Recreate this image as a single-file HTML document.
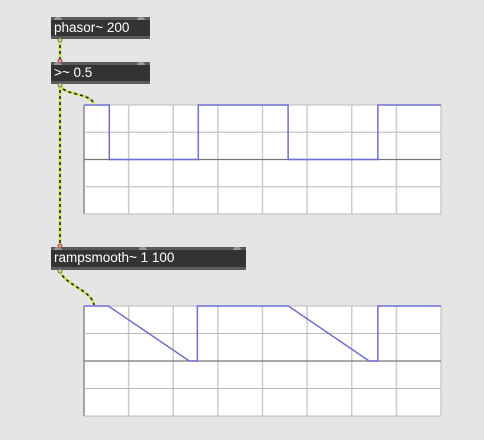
<!DOCTYPE html>
<html><head><meta charset="utf-8"><style>
body{margin:0;width:484px;height:440px;background:#e5e5e5;overflow:hidden;font-family:"Liberation Sans",sans-serif}
.obj{position:absolute;background:#333;border-top:3px solid #5a5a5a;border-bottom:3px solid #5a5a5a;color:#fff;font-size:13.5px;line-height:16px;padding-left:3px;box-sizing:border-box}
.in{position:absolute;top:-3px;width:8px;height:3px;background:#999;border-radius:4px 4px 0 0}
</style></head><body>
<div class="obj" style="left:51px;top:17px;width:99px;height:22px">phasor~ 200<span class="in" style="left:3px"></span><span class="in" style="left:86px"></span></div>
<div class="obj" style="left:51px;top:62px;width:99px;height:22px">&gt;~ 0.5<span class="in" style="left:3px"></span><span class="in" style="left:86px"></span></div>
<div class="obj" style="left:51px;top:247px;width:195px;height:23px">rampsmooth~ 1 100<span class="in" style="left:3px"></span><span class="in" style="left:88px"></span><span class="in" style="left:182px"></span></div>
<svg id="s" width="484" height="440" style="position:absolute;left:0;top:0"></svg>
<script>
const divisions=[0,1,2,3,4,5,6,7,8];
const hlines=[1,0.5,0,-0.5,-1];
const scope1T=[0,0.567,0.567,2.562,2.562,4.574,4.574,6.585,6.585,8];
const scope1V=[1,1,0,0,1,1,0,0,1,1];
const scope2T=[0,0.545,2.361,2.54,2.54,4.58,6.39,6.585,6.585,8];
const scope2V=[1,1,0,0,1,1,0,0,1,1];
const NS="http://www.w3.org/2000/svg";
const svg=document.getElementById('s');
function mk(t,a,p){const e=document.createElementNS(NS,t);for(const k in a)e.setAttribute(k,a[k]);(p||svg).appendChild(e);return e;}
function scope(x0,y0,w,h,T,V,name){
 const g=mk('g',{});
 
 
 const xs=t=>x0+t/8*w, ys=v=>y0+(1-v)/2*h;
 mk('rect',{x:x0,y:y0,width:w,height:h,fill:'#fff'},g);
 divisions.forEach(d=>{const l=mk('line',{x1:xs(d),x2:xs(d),y1:y0,y2:y0+h,stroke:d==0?'#888':'#ccc','stroke-width':1.5},g);});
 hlines.forEach(v=>{const l=mk('line',{x1:x0,x2:x0+w,y1:ys(v),y2:ys(v),stroke:v==0?'#777':'#bbb','stroke-width':v==0?1.2:1},g);});
 const p=mk('polyline',{points:T.map((t,i)=>xs(t)+','+ys(V[i])).join(' '),fill:'none',stroke:'#6f6fd8','stroke-width':1.5},g);
 
 
}
scope(84,105,357,109,scope1T,scope1V,'scope-1');
scope(84,306,357,110,scope2T,scope2V,'scope-2');
function cord(d,name){
 mk('path',{d,fill:'none',stroke:'#cfe56a','stroke-width':3});
 const c=mk('path',{d,fill:'none',stroke:'#222','stroke-width':1.6,'stroke-dasharray':'3 3'});
 
 
}
cord('M60,39 L60,62','cord-phasor-to-gt');
cord('M60,84 C62,96 90,92 94,104','cord-gt-to-scope1');
cord('M60,84 L60,247','cord-gt-to-rampsmooth');
cord('M60,270 C62,284 92,290 94,305','cord-rampsmooth-to-scope2');
[[60,39],[60,84],[60,270]].forEach(([x,y])=>mk('circle',{cx:x,cy:y+1,r:2,fill:'#cfe56a',stroke:'#555','stroke-width':0.8}));
[[60,61],[60,246]].forEach(([x,y])=>mk('circle',{cx:x,cy:y,r:2,fill:'#e5a0a0',stroke:'#833','stroke-width':0.8}));
</script>
</body></html>
